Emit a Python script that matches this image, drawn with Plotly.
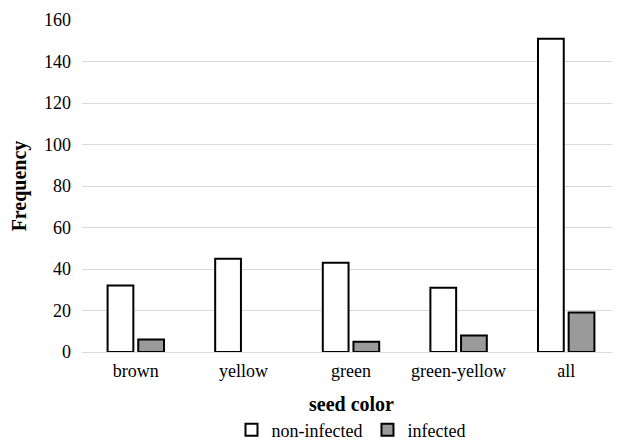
import plotly.graph_objects as go

categories = ["brown", "yellow", "green", "green-yellow", "all"]
non_infected = [32, 45, 43, 31, 151]
infected = [6, 0, 5, 8, 19]
y_ticks = [0, 20, 40, 60, 80, 100, 120, 140, 160]

FAM = "Liberation Serif"


def edge_widths(vals):
    return [2 if v > 0 else 0 for v in vals]


fig = go.Figure()
fig.add_trace(go.Bar(name="non-infected", x=categories, y=non_infected,
                     marker=dict(color="white",
                                 line=dict(color="black", width=edge_widths(non_infected)))))
fig.add_trace(go.Bar(name="infected", x=categories, y=infected,
                     marker=dict(color="#9a9a9a",
                                 line=dict(color="black", width=edge_widths(infected)))))

fig.update_layout(
    width=612, height=433,
    margin=dict(l=74, r=0, t=12, b=89, autoexpand=False),
    paper_bgcolor="white", plot_bgcolor="white",
    font=dict(family=FAM, size=18, color="black"),
    barmode="group", bargap=0.43, bargroupgap=0.16,
    showlegend=True,
    legend=dict(orientation="h", x=0.5, xanchor="center", xref="paper",
                y=-0.235, yanchor="middle", yref="paper",
                font=dict(family=FAM, size=18), itemwidth=30, traceorder="normal",
                tracegroupgap=0, itemclick=False),
    annotations=[dict(text="<b>seed color</b>", xref="paper", yref="paper",
                      x=0.5, y=-0.157, xanchor="center", yanchor="middle",
                      showarrow=False, font=dict(family=FAM, size=20))],
    xaxis=dict(showline=False, showgrid=False, tickfont=dict(family=FAM, size=18), ticks="",
               ticklabelstandoff=6, automargin=False),
    yaxis=dict(title=dict(text="<b>Frequency</b>", font=dict(family=FAM, size=20), standoff=12),
               range=[0, 160], tickvals=y_ticks, showgrid=True, gridcolor="#d9d9d9",
               gridwidth=1, zeroline=True, zerolinecolor="#d9d9d9", zerolinewidth=1,
               showline=False, tickfont=dict(family=FAM, size=18), ticklabelstandoff=10,
               automargin=False),
)

fig.write_html("out.html")
